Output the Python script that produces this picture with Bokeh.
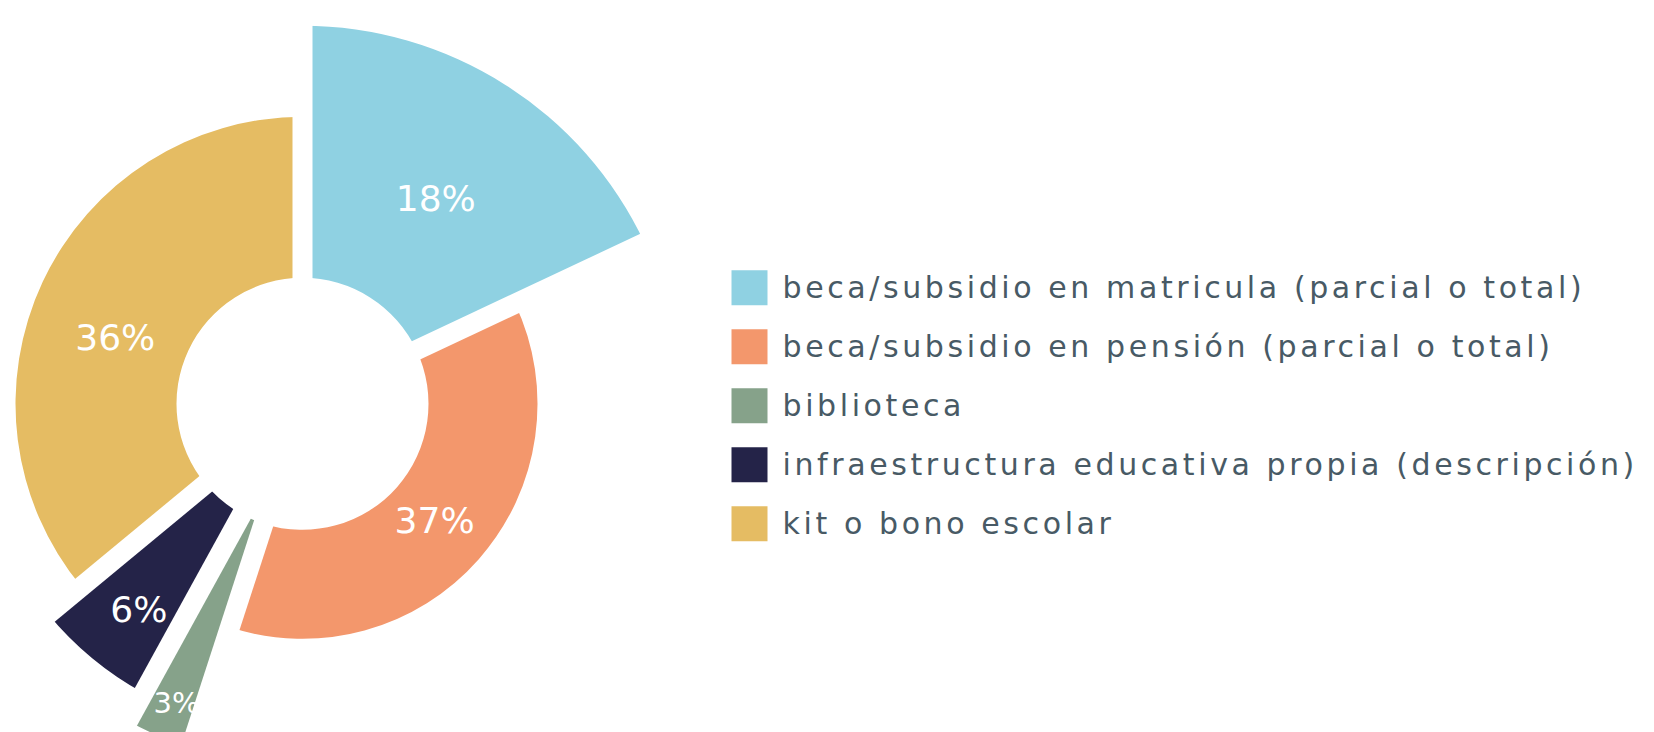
import math
from bokeh.plotting import figure
from bokeh.layouts import row
from bokeh.models import ColumnDataSource, Range1d
from bokeh.embed import file_html
from bokeh.resources import INLINE
from bokeh.core.properties import value

# ---------------- data ----------------
categories = [
    "beca/subsidio en matricula (parcial o total)",
    "beca/subsidio en pensión (parcial o total)",
    "biblioteca",
    "infraestructura educativa propia (descripción)",
    "kit o bono escolar",
]
percent = [18, 37, 3, 6, 36]

# ---------------- style ----------------
colors = ["#8fd1e2", "#f3976c", "#86a28a", "#242348", "#e5bc63"]
outer_r = [378, 235, 362, 330, 287]          # variable outer radius (px)
label_frac = [0.47, 0.46, 0.84, 0.67, 0.45]  # radial position of label inside ring
label_turn = [0.51, 0.50, 0.45, 0.45, 0.455] # angular position of label inside slice
label_size = ["36px", "36px", "29px", "36px", "36px"]
FONT = "DejaVu Sans"
TEXT_COLOR = "#485a65"

W_PIE, W_LEG, H = 728, 926, 732
CX, CY = 302, 328.7
R_IN = 126
GAP = 20

total = float(sum(percent))
starts, ends = [], []
acc = 0.0
for v in percent:
    a0 = math.pi / 2 - 2 * math.pi * acc / total
    acc += v
    a1 = math.pi / 2 - 2 * math.pi * acc / total
    starts.append(a0)
    ends.append(a1)

wedge_src = ColumnDataSource(dict(
    x=[CX] * len(percent), y=[CY] * len(percent),
    start=starts, end=ends, outer=outer_r, color=colors,
))

p = figure(width=W_PIE, height=H, x_range=Range1d(0, W_PIE), y_range=Range1d(0, H),
           x_axis_type=None, y_axis_type=None, toolbar_location=None,
           output_backend="svg", min_border=0, outline_line_color=None,
           background_fill_color="white", border_fill_color="white")
p.grid.visible = False

p.annular_wedge(x="x", y="y", inner_radius=R_IN, outer_radius="outer",
                start_angle="start", end_angle="end", direction="clock",
                fill_color="color", line_color=None, source=wedge_src)

# constant-width white gaps between slices
rmax = max(outer_r) + 40
gap_src = ColumnDataSource(dict(
    x0=[CX] * len(starts), y0=[CY] * len(starts),
    x1=[CX + rmax * math.cos(a) for a in starts],
    y1=[CY + rmax * math.sin(a) for a in starts],
))
p.segment(x0="x0", y0="y0", x1="x1", y1="y1", line_color="white",
          line_width=GAP, line_cap="butt", source=gap_src)

# percentage labels
lx, ly = [], []
for a0, a1, ro, f, t in zip(starts, ends, outer_r, label_frac, label_turn):
    m = a0 + t * (a1 - a0)
    rl = R_IN + f * (ro - R_IN)
    lx.append(CX + rl * math.cos(m))
    ly.append(CY + rl * math.sin(m))
lab_src = ColumnDataSource(dict(x=lx, y=ly, text=[f"{v}%" for v in percent], size=label_size))
p.text(x="x", y="y", text="text", text_font_size="size", text_font=value(FONT),
       text_color="white", text_align="center", text_baseline="middle", source=lab_src)

# ---------------- legend ----------------
leg = figure(width=W_LEG, height=H, x_range=Range1d(0, W_LEG), y_range=Range1d(0, H),
             x_axis_type=None, y_axis_type=None, toolbar_location=None,
             output_backend="svg", min_border=0, outline_line_color=None,
             background_fill_color="white", border_fill_color="white",
             stylesheets=[":host { letter-spacing: 3.6px; }"])
leg.grid.visible = False

ROW0_SQ, ROW0_TXT, PITCH = 444.7, 445.0, 59
idx = list(range(len(categories)))
sq_src = ColumnDataSource(dict(x=[21] * len(idx), y=[ROW0_SQ - i * PITCH for i in idx], color=colors))
leg.rect(x="x", y="y", width=36, height=35, fill_color="color", line_color=None, source=sq_src)
tx_src = ColumnDataSource(dict(x=[54] * len(idx), y=[ROW0_TXT - i * PITCH for i in idx], text=categories))
leg.text(x="x", y="y", text="text", text_font_size="30px", text_font=value(FONT),
         text_color=TEXT_COLOR, text_align="left", text_baseline="alphabetic", source=tx_src)

layout = row(p, leg, spacing=0)
open("out.html", "w").write(file_html(layout, INLINE))
